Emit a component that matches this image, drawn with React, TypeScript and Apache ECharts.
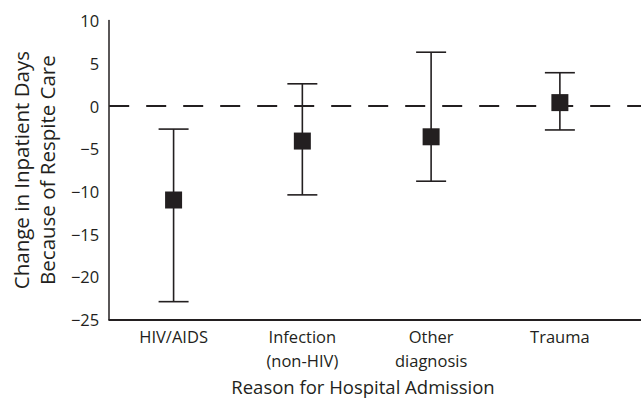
import React, { useEffect, useRef } from "react";
import * as echarts from "echarts";

const categories = ["HIV/AIDS", "Infection\n(non-HIV)", "Other\ndiagnosis", "Trauma"];
const means = [-11.0, -4.1, -3.6, 0.4];
const lower = [-22.9, -10.4, -8.8, -2.8];
const upper = [-2.7, 2.6, 6.3, 3.9];
const yTicks = { min: -25, max: 10, interval: 5 };

const FONT = "Open Sans";
const INK = "#231f20";

export default function App() {
  const ref = useRef<HTMLDivElement>(null);
  useEffect(() => {
    if (!ref.current) return;
    const chart = echarts.init(ref.current, null, { renderer: "svg" });
    const errData = categories.map((_, i) => [i + 1, lower[i], upper[i]]);
    const ptData = categories.map((_, i) => [i + 1, means[i]]);
    chart.setOption({
      animation: false,
      textStyle: { fontFamily: FONT, color: INK },
      title: {
        text: "Reason for Hospital Admission",
        left: 363,
        textAlign: "center",
        top: 377,
        padding: 0,
        textStyle: { fontSize: 18.5, fontWeight: "normal", color: INK, fontFamily: FONT },
      },
      grid: { left: 109, right: 0, top: 20.6, bottom: 84.4 },
      xAxis: {
        type: "value",
        min: 0.5,
        max: 4.63,
        interval: 0.5,
        splitLine: { show: false },
        axisTick: { show: false },
        axisLine: { onZero: false, lineStyle: { color: INK, width: 2 } },
        axisLabel: {
          showMaxLabel: false,
          margin: 5,
          fontSize: 16.5,
          lineHeight: 24,
          color: INK,
          fontFamily: FONT,
          formatter: (v: number) => {
            const r = Math.round(v);
            return Math.abs(v - r) < 1e-6 && r >= 1 && r <= categories.length ? categories[r - 1] : "";
          },
        },
      },
      yAxis: {
        type: "value",
        min: yTicks.min,
        max: yTicks.max,
        interval: yTicks.interval,
        name: "Change in Inpatient Days\nBecause of Respite Care",
        nameLocation: "middle",
        nameRotate: 90,
        nameGap: 48,
        nameTextStyle: { fontSize: 20.5, lineHeight: 26, color: INK, fontFamily: FONT },
        splitLine: { show: false },
        axisTick: { show: false },
        axisLine: { show: true, onZero: false, lineStyle: { color: INK, width: 1.5 } },
        axisLabel: {
          margin: 10,
          fontSize: 16.5,
          color: INK,
          fontFamily: FONT,
          formatter: (v: number) => (v < 0 ? "\u2212" + Math.abs(v) : String(v)),
        },
      },
      series: [
        {
          type: "custom",
          z: 3,
          data: errData,
          renderItem: (params: any, api: any) => {
            const x = api.value(0);
            const pLo = api.coord([x, api.value(1)]);
            const pHi = api.coord([x, api.value(2)]);
            const hw = 15;
            const st = { stroke: INK, lineWidth: 1.6 };
            return {
              type: "group",
              children: [
                { type: "line", shape: { x1: pLo[0], y1: pLo[1], x2: pHi[0], y2: pHi[1] }, style: st },
                { type: "line", shape: { x1: pLo[0] - hw, y1: pLo[1], x2: pLo[0] + hw, y2: pLo[1] }, style: st },
                { type: "line", shape: { x1: pHi[0] - hw, y1: pHi[1], x2: pHi[0] + hw, y2: pHi[1] }, style: st },
              ],
            };
          },
          markLine: {
            silent: true,
            symbol: "none",
            label: { show: false },
            lineStyle: { color: INK, width: 2, type: [20, 17] },
            data: [{ yAxis: 0 }],
          },
        },
        {
          type: "scatter",
          z: 4,
          data: ptData,
          symbol: "rect",
          symbolSize: 17,
          itemStyle: { color: INK, opacity: 1 },
        },
      ],
    });
    return () => chart.dispose();
  }, []);
  return (
    <div
      ref={ref}
      style={{ position: "absolute", left: 0, top: 0, width: 641, height: 404, background: "#fff" }}
    />
  );
}
